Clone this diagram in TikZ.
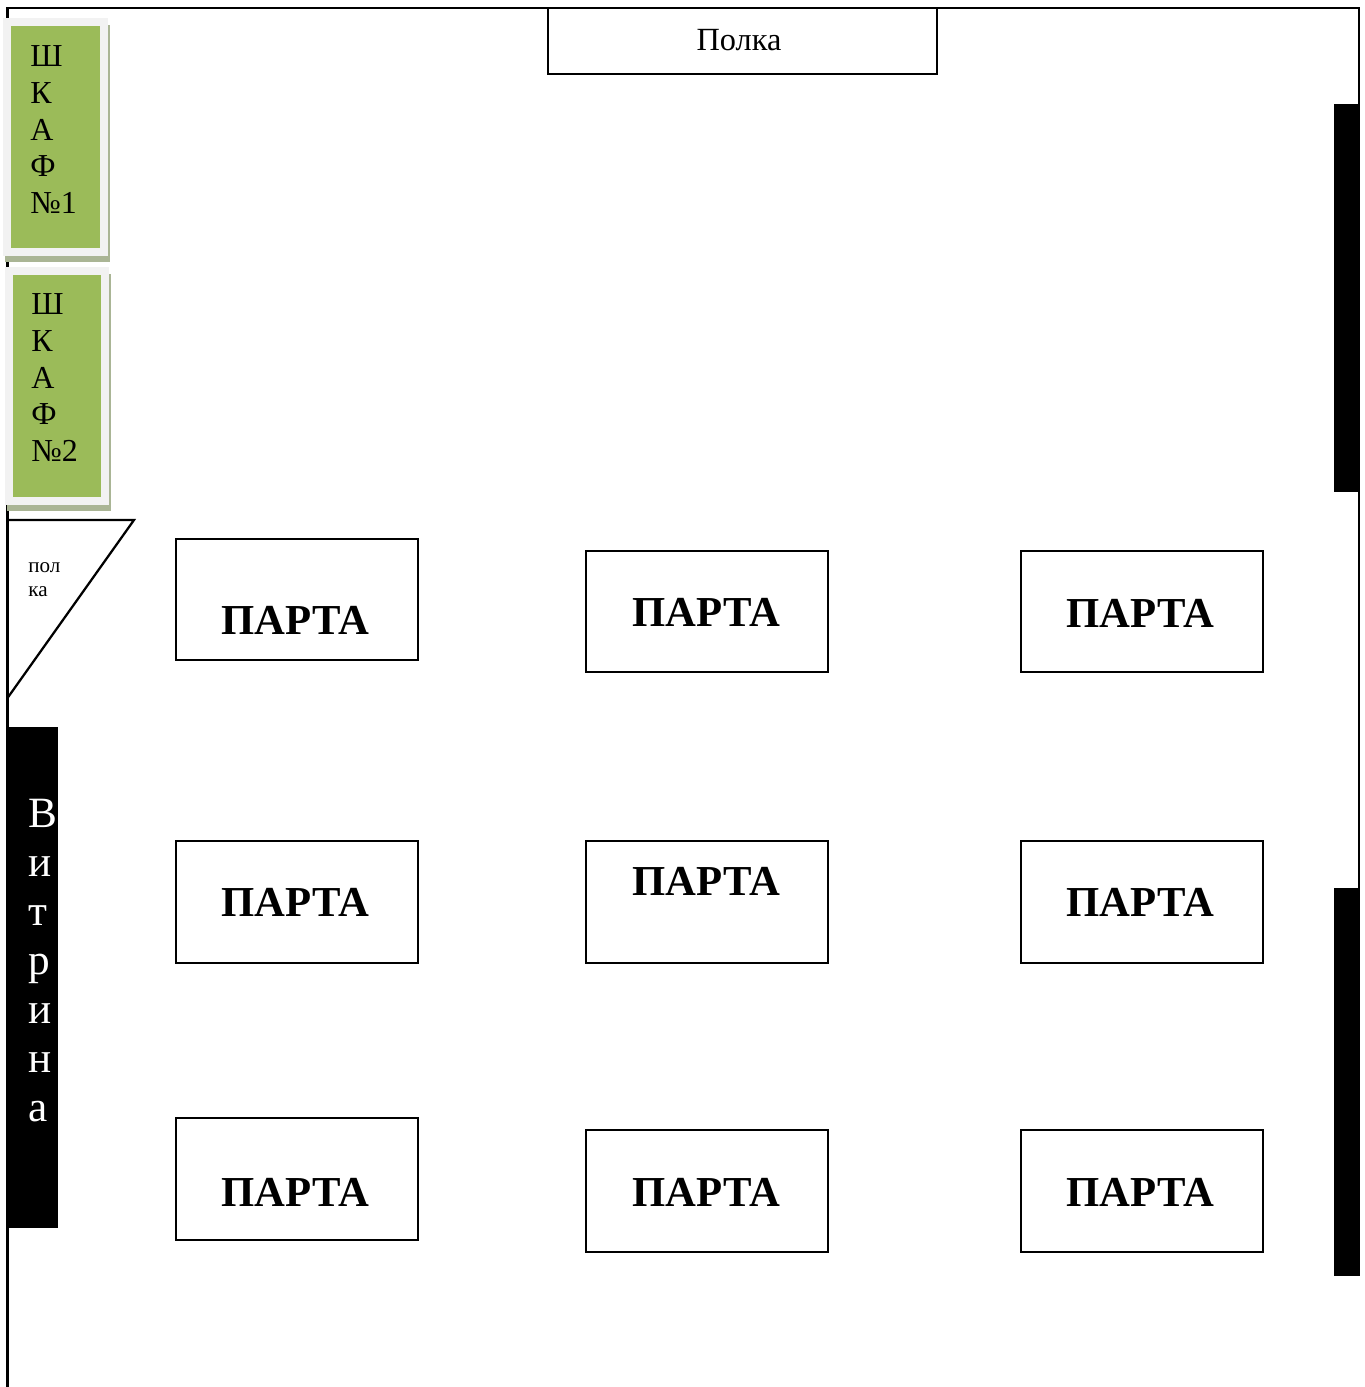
\documentclass[tikz,border=0pt]{standalone}
\usepackage{fontspec}
\setmainfont{Liberation Serif}
\usetikzlibrary{shadows}
\definecolor{shkafgreen}{HTML}{9BBB59}
\definecolor{shkafrim}{HTML}{F2F2F2}
\definecolor{shkafshadow}{HTML}{AAB595}
\tikzset{%
	wall/.style     = {draw, line width=.045cm},
	desk/.style     = {draw, line width=.04cm, rectangle, fill=white, minimum width=4.86cm, minimum height=2.44cm},
	deskname/.style = {font=\fontsize{24.3}{28}\selectfont\bfseries},
	shkafrim/.style = {rectangle, fill=shkafrim, minimum width=2.1cm, minimum height=4.76cm, drop shadow={shadow xshift=.04cm, shadow yshift=-.13cm, fill=shkafshadow, opacity=1}},
	shkaf/.style    = {rectangle, fill=shkafgreen, minimum width=1.78cm, minimum height=4.44cm},
	shkafname/.style= {anchor=north west, inner sep=0pt, align=left, font=\fontsize{18.2}{21}\selectfont},
	blackbox/.style = {rectangle, fill=black, inner sep=0pt, minimum width=.52cm, minimum height=7.76cm},
}
\begin{document}
\begin{tikzpicture}[x=.02cm,y=-.02cm]
	\useasboundingbox (0,0) rectangle (1365,1387);
	
	\draw[wall] (7.5,1387) |- (1359,8) -- (1359,1276);  % walls
	
	\node[desk, minimum width=7.8cm, minimum height=1.32cm] (polka) at (742.5,41) {};
	\node[font=\fontsize{18.4}{21}\selectfont] (polkaname) at (739,40) {Полка};
	
	\node[shkafrim] (rim1) at (55.5,137) {};
	\node[shkaf] (shkaf1) at (55.5,137) {};
	\node[shkafname] (shkaf1name) at (30,45) {Ш\\К\\А\\Ф\\№1};
	
	\node[shkafrim] (rim2) at (57,386) {};
	\node[shkaf] (shkaf2) at (57,386) {};
	\node[shkafname] (shkaf2name) at (31,293) {Ш\\К\\А\\Ф\\№2};
	
	\draw[wall] (7.5,520) coordinate (polkaA) -- (134,520) coordinate (polkaB) -- (7.5,698) coordinate (polkaC);
	\node[anchor=north west, inner sep=0pt, align=left, font=\fontsize{12}{13.6}\selectfont] (polkaname2) at (28,562) {пол\\ка};
	
	\node[blackbox, minimum width=1.02cm, minimum height=10.02cm] (vitrina) at (33,977.5) {};
	\node[anchor=north west, inner sep=0pt, align=left, text=white, font=\fontsize{24.6}{27.9}\selectfont] (vitrinaname) at (28.5,799) {В\\и\\т\\р\\и\\н\\а};
	
	\node[blackbox] (okno1) at (1347,298) {};
	\node[blackbox] (okno2) at (1347,1082) {};
	
	% row 1
	\node[desk] (d11) at (297,599.5) {};
	\node[deskname] at (295.5,620) {ПАРТА};
	\node[desk] (d12) at (707,611.5) {};
	\node[deskname] at (706.5,612) {ПАРТА};
	\node[desk] (d13) at (1142,611.5) {};
	\node[deskname] at (1140.5,613) {ПАРТА};
	
	% row 2
	\node[desk] (d21) at (297,901.5) {};
	\node[deskname] at (295.5,902) {ПАРТА};
	\node[desk] (d22) at (707,901.5) {};
	\node[deskname] at (706.5,881) {ПАРТА};
	\node[desk] (d23) at (1142,901.5) {};
	\node[deskname] at (1140.5,902) {ПАРТА};
	
	% row 3
	\node[desk] (d31) at (297,1179) {};
	\node[deskname] at (295.5,1192) {ПАРТА};
	\node[desk] (d32) at (707,1191) {};
	\node[deskname] at (706.5,1192) {ПАРТА};
	\node[desk] (d33) at (1142,1191) {};
	\node[deskname] at (1140.5,1192) {ПАРТА};
\end{tikzpicture}
\end{document}
